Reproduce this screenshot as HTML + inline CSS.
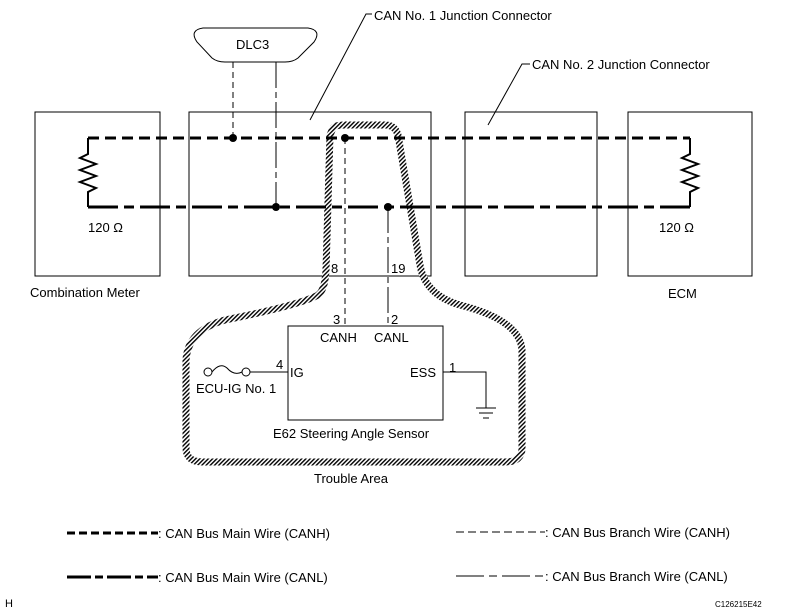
<!DOCTYPE html>
<html><head><style>
html,body{margin:0;padding:0;background:#fff}
svg{display:block}
text{font-family:"Liberation Sans",Arial,sans-serif;font-size:13px;fill:#000}
</style></head><body>
<svg width="786" height="616" viewBox="0 0 786 616" xmlns="http://www.w3.org/2000/svg">
<defs>
<pattern id="h" width="3" height="3" patternUnits="userSpaceOnUse" patternTransform="rotate(45)">
<rect width="3" height="3" fill="#fff"/><rect width="1.4" height="3" fill="#000"/>
</pattern>
</defs>
<g fill="none" stroke="#000" stroke-width="1">
<rect x="35" y="112" width="125" height="164"/>
<rect x="189" y="112" width="242" height="164"/>
<rect x="465" y="112" width="132" height="164"/>
<rect x="628" y="112" width="124" height="164"/>
<path d="M203,28 L308,28 Q322,30 314,42 L298,58 Q293,62 285,62 L225,62 Q217,62 212,58 L197,42 Q189,30 203,28 Z"/>
<path d="M310,120 L366,14 L372,14"/>
<path d="M488,125 L522,64 L530,64"/>
<rect x="288" y="326" width="155" height="94"/>
<path d="M250,372 L288,372"/>
<path d="M443,372 L486,372 L486,408"/>
<path d="M476,408 L496,408 M479,413 L493,413 M483,418 L489,418"/>
<path d="M212,372 Q220,362 227,368 Q234,376 242,372"/>
</g>
<circle cx="208" cy="372" r="4" fill="#fff" stroke="#000"/>
<circle cx="246" cy="372" r="4" fill="#fff" stroke="#000"/>
<!-- trouble area -->
<path d="M333,128 Q335,125 345,125 L385,125 Q395,125 398,135 L420,265 Q425,295 460,305 Q520,320 522,350 L522,448 Q522,462 505,462 L203,462 Q186,462 186,448 L186,360 Q188,330 225,320 Q300,305 318,295 Q325,290 326,270 L330,135 Z" fill="none" stroke="url(#h)" stroke-width="7"/>
<!-- main wires -->
<g stroke="#000" stroke-width="3" fill="none">
<path d="M88,138 L690,138" stroke-dasharray="11,6"/>
<path d="M88,207 L690,207" stroke-dasharray="30,6,10,6"/>
<path d="M88,138 L88,154 L80,158 L96,164 L80,170 L96,176 L80,182 L96,188 L88,192 L88,207" stroke-width="2"/>
<path d="M690,138 L690,154 L682,158 L698,164 L682,170 L698,176 L682,182 L698,188 L690,192 L690,207" stroke-width="2"/>
</g>
<g stroke="#000" stroke-width="1" fill="none">
<path d="M233,62 L233,138" stroke-dasharray="6,4"/>
<path d="M276,62 L276,207" stroke-dasharray="26,4,6,4"/>
<path d="M345,138 L345,326" stroke-dasharray="6,4"/>
<path d="M388,207 L388,326" stroke-dasharray="26,4,6,4"/>
</g>
<g fill="#000">
<circle cx="233" cy="138" r="4"/><circle cx="276" cy="207" r="4"/>
<circle cx="345" cy="138" r="4"/><circle cx="388" cy="207" r="4"/>
</g>
<text x="236" y="49">DLC3</text>
<text x="374" y="20">CAN No. 1 Junction Connector</text>
<text x="532" y="69">CAN No. 2 Junction Connector</text>
<text x="88" y="232">120 Ω</text>
<text x="659" y="232">120 Ω</text>
<text x="30" y="297">Combination Meter</text>
<text x="668" y="298">ECM</text>
<text x="331" y="273">8</text><text x="391" y="273">19</text>
<text x="333" y="324">3</text><text x="391" y="324">2</text>
<text x="320" y="342">CANH</text><text x="374" y="342">CANL</text>
<text x="276" y="369">4</text><text x="290" y="377">IG</text>
<text x="196" y="393">ECU-IG No. 1</text>
<text x="410" y="377">ESS</text><text x="449" y="372">1</text>
<text x="273" y="438">E62  Steering Angle Sensor</text>
<text x="314" y="483">Trouble Area</text>
<g stroke="#000" fill="none">
<path d="M67,533 L158,533" stroke-width="3" stroke-dasharray="8,4"/>
<path d="M67,577 L158,577" stroke-width="3" stroke-dasharray="24,4,8,4"/>
<path d="M456,532 L545,532" stroke-width="1" stroke-dasharray="8,4"/>
<path d="M456,576 L545,576" stroke-width="1" stroke-dasharray="28,5,8,5"/>
</g>
<text x="158" y="538">: CAN Bus Main Wire (CANH)</text>
<text x="158" y="582">: CAN Bus Main Wire (CANL)</text>
<text x="545" y="537">: CAN Bus Branch Wire (CANH)</text>
<text x="545" y="581">: CAN Bus Branch Wire (CANL)</text>
<text x="5" y="607" style="font-size:11px">H</text>
<text x="715" y="607" style="font-size:8px">C126215E42</text>
</svg>
</body></html>
